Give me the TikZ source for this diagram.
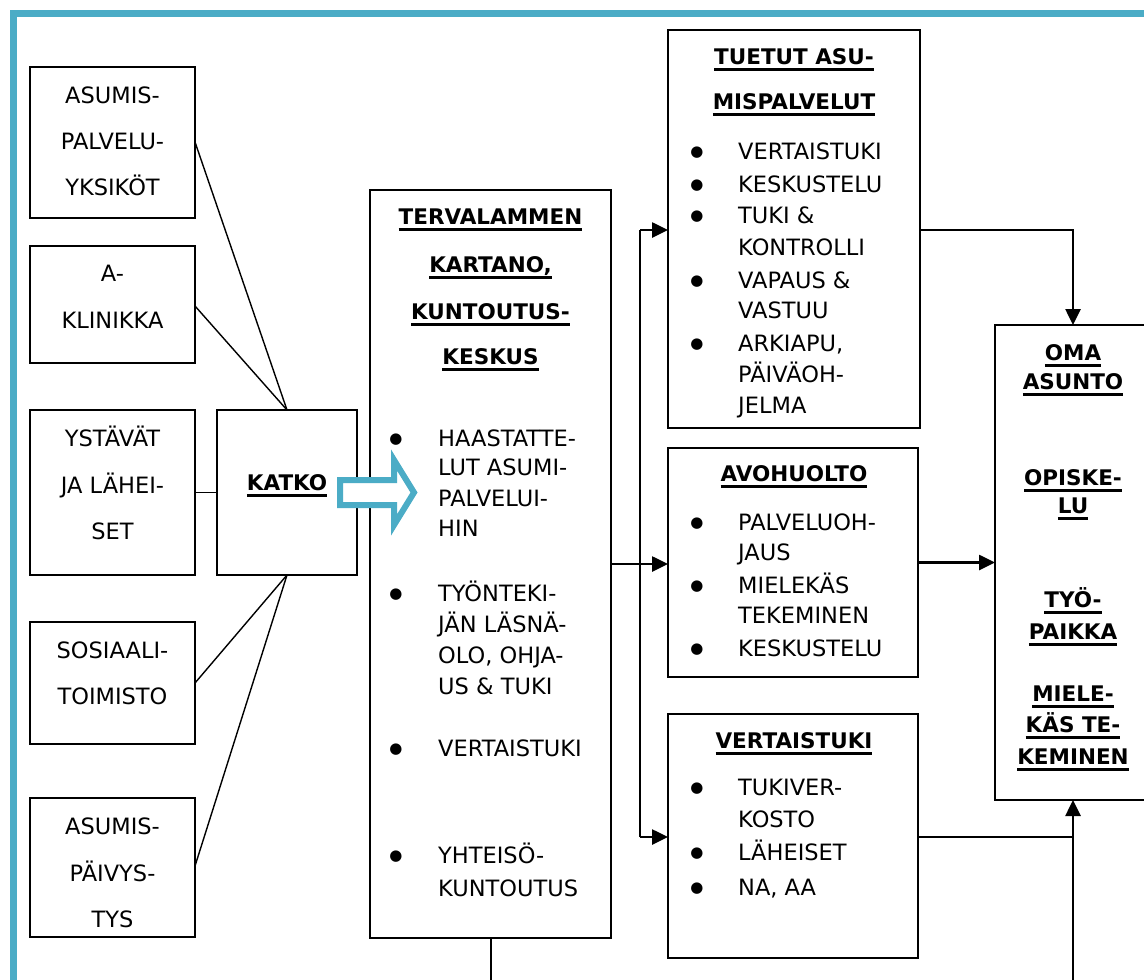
\documentclass[tikz,border=0pt]{standalone}
\usepackage{fontspec}
\setmainfont{DejaVu Sans}
\usetikzlibrary{arrows.meta}
\definecolor{teal}{RGB}{75,172,198}
\newcommand\txtreg{\fontsize{22.5}{27}\selectfont}
\newcommand\txtbold{\fontsize{21.5}{26}\selectfont\bfseries}
\newcommand\ulbold[1]{\setbox0\hbox{\txtbold #1}\rlap{\rule[-6pt]{\wd0}{2.8pt}}\box0}
\tikzset{
  box/.style={draw, line width=1.6pt, outer sep=0pt, inner sep=0pt},
  tc/.style={inner sep=0pt, font=\txtreg, anchor=base},
  tl/.style={tc, anchor=base west},
  tb/.style={inner sep=0pt, anchor=base},
  bu/.style={inner sep=0pt, font=\fontsize{15}{15}\selectfont, anchor=base},
  conn/.style={line width=2.6pt},
  arr/.style={line width=2.6pt, -{Triangle[length=16pt,width=15pt]}},
  thinl/.style={line width=1.4pt},
}
\begin{document}
\begin{tikzpicture}[x=1pt,y=-1pt]
\useasboundingbox (0,0) rectangle (1144,980);
\clip (0,0) rectangle (1144,980);
\fill[white] (0,0) rectangle (1144,980);
\draw[teal, line width=7pt] (13.5,13.5) rectangle (1250,1100);

% boxes
\node[box, minimum width=165, minimum height=151] (b1) at (112.5,142.5) {};
\node[box, minimum width=165, minimum height=117] (b2) at (112.5,304.5) {};
\node[box, minimum width=165, minimum height=165] (b3) at (112.5,492.5) {};
\node[box, minimum width=165, minimum height=122] (b4) at (112.5,683) {};
\node[box, minimum width=165, minimum height=139] (b5) at (112.5,867.5) {};
\node[box, minimum width=140, minimum height=165] (katko) at (287,492.5) {};
\node[box, minimum width=241, minimum height=748] (cen) at (490.5,564) {};
\node[box, minimum width=252, minimum height=398] (tue) at (794,229) {};
\node[box, minimum width=250, minimum height=229] (avo) at (793,562.5) {};
\node[box, minimum width=250, minimum height=244] (ver) at (793,836) {};
\node[box, minimum width=175, minimum height=475] (oma) at (1082.5,562.5) {};

% left box texts
\node[tc] (t1a) at (112.5,103.2) {ASUMIS-};
\node[tc] (t1b) at (112.5,149.2) {PALVELU-};
\node[tc] (t1c) at (112.5,195.2) {YKSIKÖT};
\node[tc] (t2a) at (112.5,281.2) {A-};
\node[tc] (t2b) at (112.5,328.2) {KLINIKKA};
\node[tc] (t3a) at (112.5,446.2) {YSTÄVÄT};
\node[tc] (t3b) at (112.5,493.2) {JA LÄHEI-};
\node[tc] (t3c) at (112.5,539.2) {SET};
\node[tc] (t4a) at (112.5,658.2) {SOSIAALI-};
\node[tc] (t4b) at (112.5,704.2) {TOIMISTO};
\node[tc] (t5a) at (112.5,834.2) {ASUMIS-};
\node[tc] (t5b) at (112.5,881.2) {PÄIVYS-};
\node[tc] (t5c) at (112.5,927.2) {TYS};
\node[tb] (tk) at (287,490.8) {\ulbold{KATKO}};

% central box
\node[tb] (c1) at (490.5,224.8) {\ulbold{TERVALAMMEN}};
\node[tb] (c2) at (490.5,272.8) {\ulbold{KARTANO,}};
\node[tb] (c3) at (490.5,319.8) {\ulbold{KUNTOUTUS-}};
\node[tb] (c4) at (490.5,364.8) {\ulbold{KESKUS}};
\node[bu] (cb1) at (396,443) {●};
\node[bu] (cb2) at (396,598) {●};
\node[bu] (cb3) at (396,753) {●};
\node[bu] (cb4) at (396,860) {●};
\node[tl] (cl1) at (438,446.2) {HAASTATTE-};
\node[tl] (cl2) at (438,475.2) {LUT ASUMI-};
\node[tl] (cl3) at (438,506.2) {PALVELUI-};
\node[tl] (cl4) at (438,536.2) {HIN};
\node[tl] (cl5) at (438,601.2) {TYÖNTEKI-};
\node[tl] (cl6) at (438,632.2) {JÄN LÄSNÄ-};
\node[tl] (cl7) at (438,663.2) {OLO, OHJA-};
\node[tl] (cl8) at (438,694.2) {US \& TUKI};
\node[tl] (cl9) at (438,756.2) {VERTAISTUKI};
\node[tl] (cl10) at (438,863.2) {YHTEISÖ-};
\node[tl] (cl11) at (438,896.2) {KUNTOUTUS};

% tuetut
\node[tb] (u1) at (794,64.8) {\ulbold{TUETUT ASU-}};
\node[tb] (u2) at (794,109.8) {\ulbold{MISPALVELUT}};
\node[bu] (ub1) at (697,156) {●};
\node[bu] (ub2) at (697,189) {●};
\node[bu] (ub3) at (697,220) {●};
\node[bu] (ub4) at (697,285) {●};
\node[bu] (ub5) at (697,348) {●};
\node[tl] (ul1) at (738,159.2) {VERTAISTUKI};
\node[tl] (ul2) at (738,192.2) {KESKUSTELU};
\node[tl] (ul3) at (738,223.2) {TUKI \&};
\node[tl] (ul4) at (738,255.2) {KONTROLLI};
\node[tl] (ul5) at (738,288.2) {VAPAUS \&};
\node[tl] (ul6) at (738,318.2) {VASTUU};
\node[tl] (ul7) at (738,351.2) {ARKIAPU,};
\node[tl] (ul8) at (738,382.2) {PÄIVÄOH-};
\node[tl] (ul9) at (738,413.2) {JELMA};

% avohuolto
\node[tb] (a1) at (794,481.8) {\ulbold{AVOHUOLTO}};
\node[bu] (ab1) at (697,527) {●};
\node[bu] (ab2) at (697,590) {●};
\node[bu] (ab3) at (697,653) {●};
\node[tl] (al1) at (738,530.2) {PALVELUOH-};
\node[tl] (al2) at (738,560.2) {JAUS};
\node[tl] (al3) at (738,593.2) {MIELEKÄS};
\node[tl] (al4) at (738,623.2) {TEKEMINEN};
\node[tl] (al5) at (738,656.2) {KESKUSTELU};

% vertaistuki
\node[tb] (v1) at (794,748.8) {\ulbold{VERTAISTUKI}};
\node[bu] (vb1) at (697,792) {●};
\node[bu] (vb2) at (697,857) {●};
\node[bu] (vb3) at (697,892) {●};
\node[tl] (vl1) at (738,795.2) {TUKIVER-};
\node[tl] (vl2) at (738,827.2) {KOSTO};
\node[tl] (vl3) at (738,860.2) {LÄHEISET};
\node[tl] (vl4) at (738,895.2) {NA, AA};

% oma
\node[tb] (o1) at (1073,360.8) {\ulbold{OMA}};
\node[tb] (o2) at (1073,389.8) {\ulbold{ASUNTO}};
\node[tb] (o3) at (1073,485.8) {\ulbold{OPISKE-}};
\node[tb] (o4) at (1073,513.8) {\ulbold{LU}};
\node[tb] (o5) at (1073,607.8) {\ulbold{TYÖ-}};
\node[tb] (o6) at (1073,639.8) {\ulbold{PAIKKA}};
\node[tb] (o7) at (1073,701.8) {\ulbold{MIELE-}};
\node[tb] (o8) at (1073,732.8) {\ulbold{KÄS TE-}};
\node[tb] (o9) at (1073,764.8) {\ulbold{KEMINEN}};

% left thin connectors
\draw[thinl] (b1.east |- 0,142) -- (katko.north);
\draw[thinl] (b2.east |- 0,306) -- (katko.north);
\draw[thinl] (b3.east) -- (katko.west);
\draw[thinl] (b4.east |- 0,683) -- (katko.south);
\draw[thinl] (b5.east |- 0,866) -- (katko.south);

% right connectors
\coordinate (vtop) at (640,230);
\coordinate (vbot) at (640,837);
\coordinate (k1) at (1073,230);
\coordinate (k3) at (1073,837);
\coordinate (k4) at (1073,1000);
\coordinate (k5) at (491,1000);
\draw[arr] (cen.east) -- (avo.west |- cen.east);
\draw[conn] (vbot) -- (vtop);
\draw[arr] (vtop) -- (vtop -| tue.west);
\draw[arr] (vbot) -- (vbot -| ver.west);
\draw[arr] (tue.east |- k1) -- (k1) -- (k1 |- oma.north);
\draw[arr] (avo.east) -- (oma.west |- avo.east);
\draw[conn] (ver.east |- k3) -- (k3);
\draw[arr] (k4) -- (k4 |- oma.south);
\draw[conn] (cen.south -| k5) -- (k5);

% hollow arrow
\draw[teal, line width=6pt, fill=white, line join=miter]
  (340,480) -- (394,480) -- (394,460) -- (414,492.5) -- (394,525) -- (394,505) -- (340,505) -- cycle;
\end{tikzpicture}
\end{document}
